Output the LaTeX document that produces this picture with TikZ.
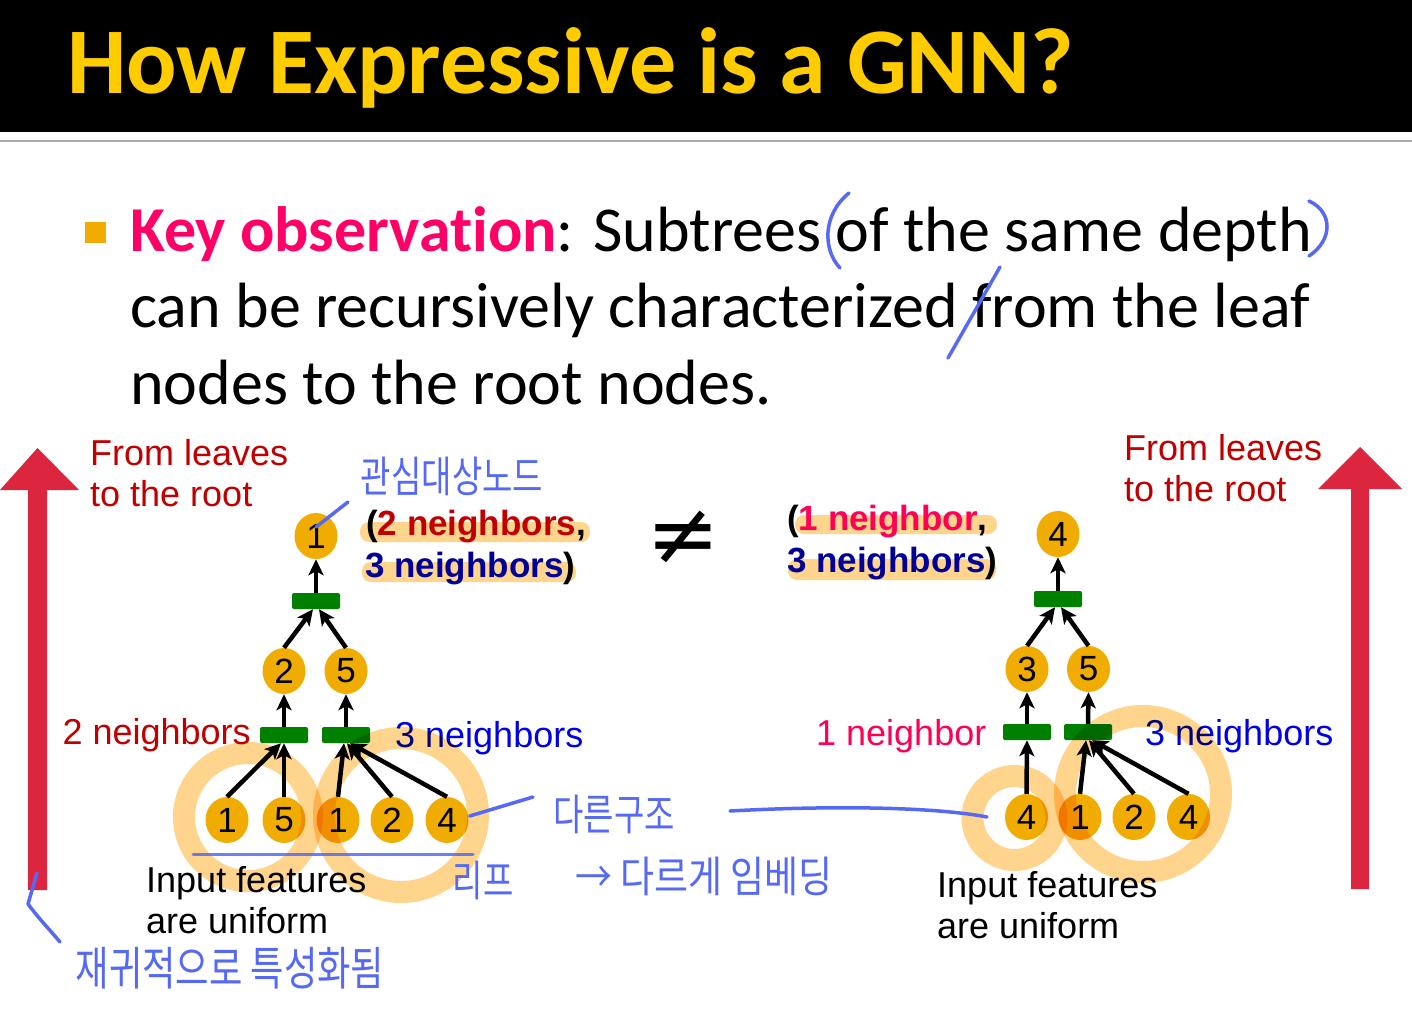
\documentclass[tikz,border=0pt]{standalone}
\usepackage{fontspec}
\usepackage{graphicx}
\setmainfont{Carlito}[Ligatures=NoCommon]
\newfontfamily\arialf{Liberation Sans}
\newfontfamily\krf{Noto Sans CJK KR}
\newfontfamily\djv{DejaVu Sans}
\usetikzlibrary{shapes.geometric,arrows.meta,calc}
\definecolor{titley}{RGB}{255,204,0}
\definecolor{keypink}{RGB}{255,0,102}
\definecolor{nodeg}{RGB}{240,172,0}
\definecolor{barg}{RGB}{0,128,0}
\definecolor{arrred}{RGB}{220,38,64}
\definecolor{darkred}{RGB}{192,0,0}
\definecolor{pinkr}{RGB}{255,0,85}
\definecolor{darkblue}{RGB}{0,0,153}
\definecolor{labblue}{RGB}{0,0,230}
\definecolor{ringc}{RGB}{255,212,140}
\definecolor{penc}{RGB}{85,105,245}
\definecolor{rulegray}{RGB}{170,170,170}
\begin{document}
\begin{tikzpicture}[x=1pt,y=-1pt,
  nd/.style={ellipse, fill=nodeg, minimum width=43pt, minimum height=46pt, inner sep=0pt, font=\arialf\fontsize{35}{35}\selectfont},
  bar/.style={rectangle, fill=barg, rounded corners=2pt, minimum width=48pt, minimum height=16pt, inner sep=0pt},
  arr/.style={line width=4.5pt, -{Stealth[length=16pt,width=15pt,inset=4pt]}},
  lab/.style={inner sep=0pt, font=\arialf\fontsize{36}{36}\selectfont},
  blab/.style={inner sep=0pt, font=\arialf\bfseries\fontsize{35}{35}\selectfont},
  ring/.style={draw=ringc, line width=22pt, blend mode=multiply},
  hl/.style={fill=ringc, rounded corners=9pt},
  pen/.style={draw=penc, line width=3.5pt, line cap=round, line join=round},
  hw/.style={text=penc, inner sep=0pt, font=\krf\fontsize{33}{33}\selectfont},
  bodytxt/.style={anchor=base west, inner sep=0pt, font=\fontsize{64}{64}\selectfont}
]
\useasboundingbox (0,0) rectangle (1412,1009);
\fill[white] (0,0) rectangle (1412,1009);
% title band
\fill[black] (0,0) rectangle (1412,132);
\draw[rulegray, line width=2.5pt] (0,141) -- (1412,141);
\node[anchor=base west, inner sep=0pt, text=titley, font=\bfseries\fontsize{94}{94}\selectfont] (title) at (67,93) {How Expressive is a GNN?};

% bullet
\node[rectangle, fill=nodeg, minimum size=21pt, inner sep=0pt] (bul) at (95.5,232.5) {};
\node[bodytxt] (t1) at (130,251) {{\bfseries\color{keypink}Key observation}: Subtrees of the same depth};
\node[bodytxt] (t2) at (130,327) {can be recursively characterized from the leaf};
\node[bodytxt] (t3) at (130,404) {nodes to the root nodes.};

% big red arrows
\fill[arrred] (28,890) -- (28,490) -- (0,490) -- (37.5,448) -- (79,490) -- (47,490) -- (47,890) -- cycle;
\fill[arrred] (1351,889) -- (1351,489) -- (1318,489) -- (1360,447) -- (1402,489) -- (1369,489) -- (1369,889) -- cycle;
\node[lab, anchor=base west, text=darkred] (fl1) at (90,465) {From leaves};
\node[lab, anchor=base west, text=darkred] (fl2) at (90,506) {to the root};
\node[lab, anchor=base west, text=darkred] (fr1) at (1124,460) {From leaves};
\node[lab, anchor=base west, text=darkred] (fr2) at (1124,501) {to the root};

% highlights of root labels
\fill[hl] (360,522) rectangle (590,542);
\fill[hl] (362,562) rectangle (576,582);
\fill[hl] (795,515) rectangle (997,534);
\fill[hl] (788,559) rectangle (996,580);
\node[blab, anchor=base west] (rl1) at (366,535) {(\textcolor{darkred}{2 neighbors},};
\node[blab, anchor=base west] (rl2) at (365,577) {\textcolor{darkblue}{3 neighbors})};
\node[blab, anchor=base west] (rr1) at (787,530) {(\textcolor{pinkr}{1 neighbor},};
\node[blab, anchor=base west] (rr2) at (787,572) {\textcolor{darkblue}{3 neighbors})};

\node[inner sep=0pt, font=\djv\fontsize{88}{88}\selectfont] (neq) at (683,538) {≠};

% left tree
\node[nd] (r1) at (316,536) {1};
\node[bar] (b0) at (316,601) {};
\node[nd] (m2) at (284,671) {2};
\node[nd] (m5) at (346,671) {5};
\node[bar] (bL) at (284,735) {};
\node[bar] (bR) at (346,735) {};
\node[nd] (a1) at (227,820) {1};
\node[nd] (a5) at (284,820) {5};
\node[nd] (a1b) at (338,820) {1};
\node[nd] (a2) at (392,820) {2};
\node[nd] (a4) at (447,820) {4};
\draw[arr] (b0.north) -- (r1.south);
\draw[arr] (m2.north) -- ($(b0.south)+(-3,0)$);
\draw[arr] (m5.north) -- ($(b0.south)+(3,0)$);
\draw[arr] (bL.north) -- (m2.south);
\draw[arr] (bR.north) -- (m5.south);
\draw[arr] (a1.north) -- ($(bL.south)+(-3,0)$);
\draw[arr] (a5.north) -- (bL.south);
\draw[arr] (a1b.north) -- ($(bR.south)+(-2,0)$);
\draw[arr] (a2.north) -- ($(bR.south)+(1,0)$);
\draw[arr] (a4.north) -- ($(bR.south)+(4,0)$);
\node[lab, anchor=base east, text=darkred] (n2l) at (251,744) {2 neighbors};
\node[lab, anchor=base west, text=labblue] (n3l) at (395,747) {3 neighbors};
\node[lab, anchor=base west] (if1) at (146,892) {Input features};
\node[lab, anchor=base west] (if2) at (146,933) {are uniform};

% right tree
\node[nd] (r4) at (1058,534) {4};
\node[bar] (c0) at (1058,599) {};
\node[nd] (n3) at (1027,669) {3};
\node[nd] (n5) at (1088.5,669) {5};
\node[bar] (cL) at (1027,732) {};
\node[bar] (cR) at (1088,732) {};
\node[nd] (d4) at (1026.5,817) {4};
\node[nd] (d1) at (1080,817) {1};
\node[nd] (d2) at (1134,817) {2};
\node[nd] (d4b) at (1188.5,817) {4};
\draw[arr] (c0.north) -- (r4.south);
\draw[arr] (n3.north) -- ($(c0.south)+(-3,0)$);
\draw[arr] (n5.north) -- ($(c0.south)+(3,0)$);
\draw[arr] (cL.north) -- (n3.south);
\draw[arr] (cR.north) -- (n5.south);
\draw[arr] (d4.north) -- (cL.south);
\draw[arr] (d1.north) -- ($(cR.south)+(-2,0)$);
\draw[arr] (d2.north) -- ($(cR.south)+(1,0)$);
\draw[arr] (d4b.north) -- ($(cR.south)+(4,0)$);
\node[lab, anchor=base west, text=pinkr] (n1r) at (816,745) {1 neighbor};
\node[lab, anchor=base west, text=labblue] (n3r) at (1145,745) {3 neighbors};
\node[lab, anchor=base west] (jf1) at (937,897) {Input features};
\node[lab, anchor=base west] (jf2) at (937,938) {are uniform};

% highlight rings
\draw[ring] (248,817) circle[radius=64];
\draw[ring] (401,815) circle[radius=77];
\draw[ring] (1014.5,818) circle[radius=42];
\draw[ring] (1143,794) circle[radius=78];

% handwritten annotations
\draw[pen] (849,193) .. controls (822,215) and (823,250) .. (840,268);
\draw[pen] (1309,201) .. controls (1333,212) and (1333,240) .. (1309,256);
\draw[pen] (948,358) -- (1000,267);
\draw[pen] (r1.center) ++(0,-9) -- (348,502);
\draw[pen] (a4.east) ++(1,-4) -- (533,797);
\draw[pen] (730,811) .. controls (820,806) and (930,806) .. (987,817);
\draw[pen, line width=3pt, opacity=0.85] (193,854) -- (473,854);
\draw[pen] (37,873) -- (28,904) .. controls (40,920) and (50,930) .. (60,942);
\node[hw] (hw1) at (452,476) {\scalebox{1}[1.3]{관심대상노드}};
\node[hw] (hw2) at (614,814) {\scalebox{1}[1.3]{다른구조}};
\node[hw] (hw3) at (704,876) {\scalebox{1.12}[1.3]{→ 다르게 임베딩}};
\node[hw] (hw4) at (483,880) {\scalebox{1}[1.3]{리프}};
\node[hw] (hw5) at (230,968) {\scalebox{1.1}[1.4]{재귀적으로 특성화됨}};
\end{tikzpicture}
\end{document}
